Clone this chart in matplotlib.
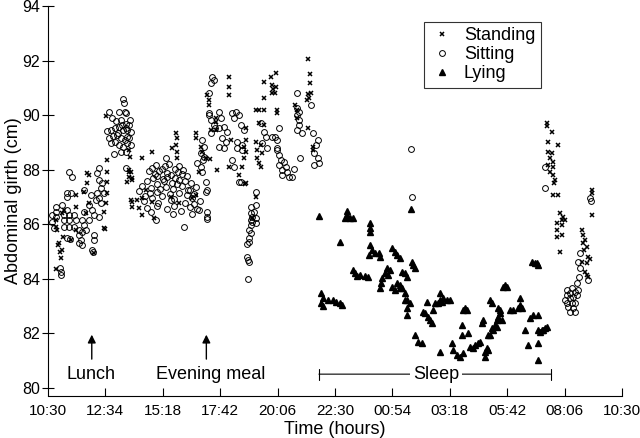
import matplotlib.pyplot as plt

plt.rcParams['font.family'] = ['Liberation Sans', 'DejaVu Sans']

# time in hours after 10:30, girth in cm
standing_h = [0.34, 0.34, 0.38, 0.42, 0.50, 0.54, 0.34, 0.63,
              2.47, 2.47, 2.47, 2.47, 2.43, 2.35, 2.35, 1.72, 1.63, 1.51, 1.17, 1.72, 1.59, 1.17, 0.67, 0.59,
              0.46, 0.59, 1.17, 0.96, 1.93, 3.39, 3.52, 3.52, 2.39, 1.63, 2.43, 3.39, 3.43, 3.39,
              3.48, 3.39, 3.52, 3.31, 3.48, 3.73, 3.52, 3.81, 3.94, 3.94, 4.36, 3.94, 4.10, 4.36, 4.44,
              5.36, 5.40, 5.36, 5.40, 5.19, 5.40, 6.20, 6.20, 6.78, 6.32, 6.03, 5.49, 5.15, 6.20, 6.41, 6.45, 6.62,
              7.58, 7.58, 7.58, 6.66, 6.74, 6.74, 7.04, 7.04, 6.83, 7.04, 8.29, 7.66, 8.29, 8.21, 8.29, 8.21,
              7.58, 8.12, 7.08, 8.00, 8.29, 8.84, 9.05, 8.84, 9.05, 8.71, 9.05, 9.34, 9.55, 9.05, 9.38, 9.55,
              9.38, 9.51, 9.59, 9.59, 8.71, 8.92, 8.75, 8.96, 8.75, 8.84, 8.92, 8.71, 8.25, 8.54,
              10.85, 10.97, 10.97, 9.42, 10.34, 10.39, 10.39, 10.85, 10.93, 11.01, 10.81, 10.89, 11.06, 11.06,
              20.86, 20.86, 21.07, 20.90, 21.32, 20.90, 21.07, 20.98, 21.11, 20.90, 21.11, 20.98, 21.11, 21.19,
              21.15, 21.11, 21.32, 21.40, 21.53, 21.48, 21.61, 21.28, 21.48, 21.28, 21.48, 21.28, 21.40,
              22.74, 22.74, 22.74, 22.32, 22.36, 22.45, 22.36, 22.53, 22.41, 22.57, 22.32, 22.53, 22.66,
              22.45, 22.53, 22.57]
standing_g = [86.15, 85.90, 85.79, 85.24, 84.98, 84.76, 84.36, 85.53,
              88.35, 87.91, 87.55, 87.14, 86.78, 86.45, 85.86, 87.80, 87.51, 87.18, 87.07, 86.78, 86.41, 86.63, 86.52, 86.41,
              85.31, 85.05, 85.79, 85.42, 84.95, 87.91, 87.69, 86.81, 85.82, 87.88, 89.96, 88.72, 88.46, 87.99,
              87.91, 87.73, 87.62, 87.55, 86.89, 86.89, 86.63, 86.59, 86.34, 86.96, 88.64, 88.42, 87.25, 86.81, 86.23,
              89.34, 89.16, 88.90, 88.64, 88.79, 88.42, 89.34, 89.16, 88.39, 87.91, 86.96, 86.78, 87.00, 87.07, 88.83, 88.64, 88.42,
              91.39, 91.03, 90.73, 90.73, 90.55, 90.37, 89.89, 89.74, 89.45, 89.45, 89.52, 89.08, 89.08, 88.83, 88.64, 88.42,
              88.10, 88.10, 87.99, 87.80, 87.51, 90.18, 90.18, 89.71, 89.63, 90.18, 90.62, 91.39, 91.54, 91.21, 91.10, 91.03,
              90.81, 90.81, 90.18, 90.07, 89.01, 88.90, 88.72, 88.61, 88.42, 88.24, 88.10, 87.00, 87.47, 86.23,
              92.05, 91.50, 91.17, 90.95, 90.37, 90.18, 89.89, 90.77, 90.62, 90.81, 90.55, 89.52, 88.83, 88.72,
              89.71, 89.60, 89.38, 89.01, 88.90, 88.64, 88.61, 88.42, 88.28, 88.17, 88.10, 87.91, 87.80, 87.62,
              87.51, 87.07, 87.07, 86.41, 86.26, 86.15, 86.15, 86.04, 85.97, 85.79, 85.60, 85.53, 84.98,
              87.25, 87.14, 86.34, 85.79, 85.60, 85.42, 85.31, 85.16, 85.05, 84.80, 84.62, 84.58, 84.73,
              84.25, 84.14, 84.07]

sitting_h = [2.76, 3.06, 3.27, 0.88, 1.01, 2.14, 2.05, 2.14, 2.26, 2.22, 2.35, 2.05, 2.14, 2.22, 2.01, 1.80,
             1.51, 0.80, 0.96, 0.80, 0.34, 0.34, 0.34, 0.59, 0.80, 0.67, 0.88, 1.09, 0.67, 0.88, 1.17, 1.42,
             0.67, 0.88, 1.09, 1.30, 1.42, 1.59, 1.30, 1.38, 1.42, 1.93, 1.93, 1.84, 1.88, 0.80, 0.54, 0.54,
             1.72, 1.84, 1.93, 1.51, 1.72, 2.14, 1.51, 0.50, 0.92, 1.30, 0.17, 0.17, 0.25,
             3.14, 3.18, 2.55, 2.97, 3.22, 3.43, 2.68, 2.85, 3.06, 3.27, 3.39, 2.47, 2.64, 2.81, 2.97, 3.14,
             3.31, 3.48, 2.55, 2.72, 2.89, 3.06, 3.22, 3.39, 2.64, 2.81, 2.97, 3.14, 3.31, 3.27, 3.48, 2.93,
             3.10, 3.27, 3.27, 3.31,
             4.33, 4.50, 4.75, 4.88, 5.05, 5.30, 5.47, 5.63,
             4.21, 4.46, 4.63, 4.96, 5.13, 5.42, 5.59,
             4.38, 4.54, 4.79, 4.96, 5.30, 5.47, 5.80,
             4.13, 4.54, 4.84, 5.17, 5.38, 5.72, 5.97,
             3.91, 4.29, 4.67, 4.92, 5.21, 5.59, 5.93, 6.18,
             3.79, 4.25, 4.54, 5.09, 5.47, 5.84, 6.09,
             4.04, 4.34, 4.75, 5.26, 5.80, 6.01,
             4.00, 4.58, 5.13, 5.72, 6.09, 6.34,
             4.12, 4.54, 4.96, 5.26, 5.93, 6.22,
             4.29, 5.21, 5.55, 6.01, 6.66,
             4.52, 6.66, 5.70,
             4.94, 6.45, 6.53, 6.41, 6.53, 6.74, 6.83, 6.83, 6.24, 6.41, 6.62, 6.66, 6.49, 6.45,
             6.87, 6.95, 6.83, 6.74, 6.74, 7.16, 7.25, 6.95, 6.99, 7.16, 7.37, 7.50, 7.29, 7.45, 7.16, 7.37,
             7.71, 7.87, 8.00, 7.79, 8.08, 8.21, 7.92, 8.12, 7.92, 8.12, 7.71, 7.79, 8.08, 6.62, 8.71,
             8.92, 9.05, 9.13, 8.96, 9.17, 9.47, 9.59, 9.67, 9.59, 9.76,
             8.00, 6.66, 6.32, 8.71, 8.50, 8.63, 8.50, 8.54, 8.71, 8.50, 8.54, 8.71, 8.50, 8.42, 8.50, 8.42,
             8.42, 8.33, 8.33, 8.38, 8.42, 8.38,
             10.39, 10.43, 10.51, 10.43, 10.51, 10.51, 10.43, 10.60, 11.06, 11.27, 11.22, 11.01, 9.38, 9.59,
             9.67, 9.88, 9.67, 9.97, 9.80, 10.01, 9.80, 10.09, 10.22, 10.30, 10.55, 11.14, 11.27, 11.14, 11.31,
             15.16, 15.20,
             20.77, 20.77, 22.66, 22.70, 22.24, 22.16, 22.24, 22.20, 22.57, 21.69, 21.90, 22.11, 21.69, 21.82,
             22.03, 22.16, 21.61, 21.82, 21.95, 22.11, 21.69, 21.90, 22.03, 21.74, 21.95, 21.82, 22.03]
sitting_g = [88.57, 88.64, 88.06, 87.91, 87.73, 88.06, 87.88, 87.62, 87.51, 87.33, 87.14, 87.14, 86.96, 86.78, 86.89, 87.07,
             87.25, 87.14, 87.14, 87.00, 86.63, 86.45, 86.26, 86.70, 86.52, 86.34, 86.34, 86.34, 86.15, 86.15, 86.15, 86.15,
             85.90, 85.90, 85.90, 85.79, 85.71, 85.79, 85.60, 85.42, 85.24, 85.60, 85.42, 85.05, 84.98, 85.49, 84.25, 84.14,
             86.70, 86.52, 86.34, 86.45, 86.15, 86.26, 85.97, 84.40, 85.46, 85.31, 86.34, 86.08, 85.86,
             90.59, 90.44, 90.11, 90.11, 90.11, 89.82, 89.89, 89.78, 89.82, 89.67, 89.63, 89.41, 89.45, 89.52, 89.56, 89.45,
             89.45, 89.38, 89.16, 89.23, 89.27, 89.16, 89.08, 89.16, 88.97, 89.01, 88.90, 88.83, 88.97, 88.64, 88.90, 89.34,
             89.63, 90.07, 89.52, 89.19,
             88.06, 88.17, 88.02, 88.13, 88.21, 88.04, 88.15, 88.00,
             87.95, 87.84, 87.97, 87.88, 87.80, 87.93, 87.86,
             87.69, 87.77, 87.66, 87.75, 87.70, 87.64, 87.78,
             87.58, 87.49, 87.60, 87.52, 87.47, 87.57, 87.50,
             87.40, 87.33, 87.29, 87.38, 87.31, 87.42, 87.27, 87.35,
             87.22, 87.13, 87.20, 87.09, 87.16, 87.24, 87.11,
             87.04, 86.95, 87.02, 86.93, 87.06, 86.97,
             86.85, 86.77, 86.88, 86.79, 86.74, 86.84,
             86.60, 86.68, 86.57, 86.66, 86.62, 86.55,
             86.44, 86.36, 86.48, 86.39, 86.43,
             86.15, 86.19, 85.90,
             88.42, 89.08, 88.83, 88.61, 88.46, 90.07, 89.82, 89.34, 88.24, 88.10, 87.55, 87.25, 88.35, 87.91,
             91.39, 91.28, 91.17, 90.81, 90.00, 90.11, 89.89, 89.63, 89.52, 89.52, 89.56, 89.38, 89.16, 89.01, 88.83, 88.79,
             90.07, 90.11, 90.00, 89.89, 89.63, 89.45, 89.01, 88.90, 88.79, 88.72, 88.35, 88.10, 87.55, 87.18, 87.18,
             89.71, 89.38, 89.19, 88.97, 88.79, 89.19, 89.08, 89.52, 88.79, 88.35,
             87.55, 86.26, 86.52, 86.70, 86.63, 86.45, 86.41, 86.26, 86.23, 86.15, 86.08, 86.04, 85.97, 85.79, 85.68, 85.49,
             85.35, 85.27, 84.80, 84.69, 84.62, 83.99,
             90.81, 90.26, 90.11, 90.00, 89.82, 89.63, 89.45, 89.34, 89.34, 89.08, 88.90, 90.37, 89.19, 88.72,
             88.53, 88.28, 88.17, 88.10, 87.99, 87.91, 87.80, 87.73, 87.73, 88.02, 88.42, 88.61, 88.42, 88.17, 88.24,
             88.75, 87.00,
             88.10, 87.33, 86.96, 86.85, 84.95, 84.62, 84.40, 84.07, 83.96, 83.59, 83.66, 83.85, 83.41, 83.48,
             83.52, 83.59, 83.22, 83.30, 83.33, 83.41, 83.11, 83.11, 83.11, 82.97, 82.93, 82.78, 82.78]

lying_h = [11.31, 12.52, 12.48, 12.61, 12.40, 12.73, 13.45, 13.45, 13.45, 12.19, 13.45, 13.53, 13.40, 13.65,
           13.82, 13.86, 14.37, 14.49, 14.58, 14.70, 14.79, 14.91, 14.99, 12.73, 12.82, 12.90, 13.03, 13.24,
           13.36, 14.16, 14.28, 14.07, 14.20, 13.95, 13.91, 13.86, 14.37, 14.58, 14.70, 14.49, 14.91, 14.99,
           14.99, 14.99, 11.43, 11.48, 11.43, 11.48, 11.69, 11.90, 12.06, 12.19, 12.31,
           15.25, 15.33, 15.12, 14.70, 15.33, 15.46, 15.62, 15.75, 15.87, 15.96, 16.17, 16.38, 16.50, 16.67,
           16.38, 15.83, 16.38, 16.88, 16.92, 17.09, 17.21, 17.34, 17.30, 17.34, 17.51, 17.30, 17.55, 17.63,
           17.84, 17.97, 18.26, 18.35, 18.14, 18.18, 18.47, 18.55, 18.47, 18.60, 18.76, 18.76, 18.81, 18.89,
           18.97, 18.89, 19.02, 19.10, 19.18, 19.31, 19.43, 19.73, 19.73, 19.64, 19.81, 20.15, 20.27, 19.94,
           20.06, 20.23, 20.36, 20.44, 20.48, 20.48, 20.48, 20.48, 20.65, 20.77, 20.86,
           15.20, 14.79, 14.91, 15.66, 16.04, 16.08, 16.29, 16.46, 16.80, 17.42, 17.76, 18.05, 18.39, 18.26,
           18.39, 18.68, 18.81, 18.55, 20.57, 20.69, 20.48, 15.16]
lying_g = [86.30, 86.48, 86.34, 86.23, 86.23, 86.23, 86.04, 85.86, 85.71, 85.35, 85.24, 85.05, 84.87, 84.95,
           84.95, 84.80, 85.13, 84.98, 84.87, 84.76, 84.25, 84.21, 84.07, 84.32, 84.21, 84.10, 84.14, 84.10,
           84.07, 84.40, 84.32, 84.21, 84.14, 84.03, 83.85, 83.66, 83.70, 83.85, 83.66, 83.59, 83.48, 83.22,
           82.93, 82.67, 83.48, 83.30, 83.11, 83.00, 83.22, 83.22, 83.15, 83.11, 83.04,
           84.51, 84.40, 83.11, 83.77, 81.94, 81.68, 81.65, 82.75, 82.60, 82.49, 83.11, 83.22, 83.30, 83.22,
           83.48, 83.15, 81.32, 81.65, 81.39, 81.21, 81.14, 81.28, 81.94, 82.86, 82.86, 82.31, 82.01, 81.50,
           81.58, 81.65, 81.32, 81.47, 82.38, 82.49, 83.22, 82.20, 81.94, 82.12, 82.23, 82.49, 82.60, 82.75,
           82.49, 82.86, 83.70, 83.77, 83.70, 82.86, 82.86, 83.30, 83.04, 82.93, 82.93, 82.56, 82.67, 82.12,
           81.58, 84.62, 84.58, 84.58, 82.67, 82.12, 81.65, 81.03, 82.12, 82.20, 82.23,
           84.62, 83.66, 83.22, 82.78, 82.38, 82.86, 83.11, 83.15, 83.22, 82.93, 81.47, 81.68, 81.39, 81.14,
           81.94, 82.31, 82.93, 83.11, 82.05, 82.12, 84.51, 86.56]

tick_pos = [0, 2.4, 4.8, 7.2, 9.6, 12, 14.4, 16.8, 19.2, 21.6, 24]
tick_labels = ['10:30', '12:34', '15:18', '17:42', '20:06', '22:30', '00:54', '03:18', '05:42', '08:06', '10:30']
meal_h = [1.83, 6.62]
meal_text_h = [1.80, 6.79]
meal_labels = ['Lunch', 'Evening meal']
sleep_start, sleep_end = 11.21, 21.13

fig = plt.figure(figsize=(6.4, 4.38), dpi=100)
ax = fig.add_axes([0.075, 0.096, 0.897, 0.89])

ax.plot(standing_h, standing_g, 'x', color='black', markersize=3.2, markeredgewidth=1.1, label='Standing')
ax.plot(sitting_h, sitting_g, 'o', markerfacecolor='none', markeredgecolor='black', markersize=4.2,
        markeredgewidth=0.7, label='Sitting')
ax.plot(lying_h, lying_g, '^', color='black', markersize=4.3, label='Lying')

ax.set_xlim(0, 24)
ax.set_ylim(79.7, 94)
ax.set_xticks(tick_pos)
ax.set_xticklabels(tick_labels)
ax.set_yticks([80, 82, 84, 86, 88, 90, 92, 94])
ax.spines['top'].set_visible(False)
ax.spines['right'].set_visible(False)
ax.spines['left'].set_bounds(80, 94)
ax.tick_params(axis='x', direction='in', length=6, labelsize=11, pad=6)
ax.tick_params(axis='y', direction='inout', length=9, labelsize=11.5, pad=1)
ax.set_xlabel('Time (hours)', fontsize=13, labelpad=2)
ax.set_ylabel('Abdominal girth (cm)', fontsize=13)
ax.yaxis.set_label_coords(-0.045, 0.5)

# meal arrows
for h, th, lab in zip(meal_h, meal_text_h, meal_labels):
    ax.annotate('', xy=(h, 82.05), xytext=(h, 80.95),
                arrowprops=dict(arrowstyle='-|>', color='black', lw=1, mutation_scale=12))
    ax.text(th, 80.48, lab, ha='center', va='center', fontsize=13)

# sleep bracket
ax.annotate('', xy=(sleep_start, 80.5), xytext=(sleep_end, 80.5),
            arrowprops=dict(arrowstyle='|-|', color='black', lw=0.8, mutation_scale=4))
ax.text(16.23, 80.5, 'Sleep', ha='center', va='center', fontsize=13,
        bbox=dict(facecolor='white', edgecolor='none', pad=2))

leg = ax.legend(loc='upper left', bbox_to_anchor=(0.655, 0.96), borderaxespad=0, fontsize=13, frameon=True,
                fancybox=False, handletextpad=0.5, borderpad=0.3, labelspacing=0.12, handlelength=1.4)
leg.get_frame().set_edgecolor('black')
leg.get_frame().set_linewidth(0.8)

fig.savefig('out.png', dpi=100)
